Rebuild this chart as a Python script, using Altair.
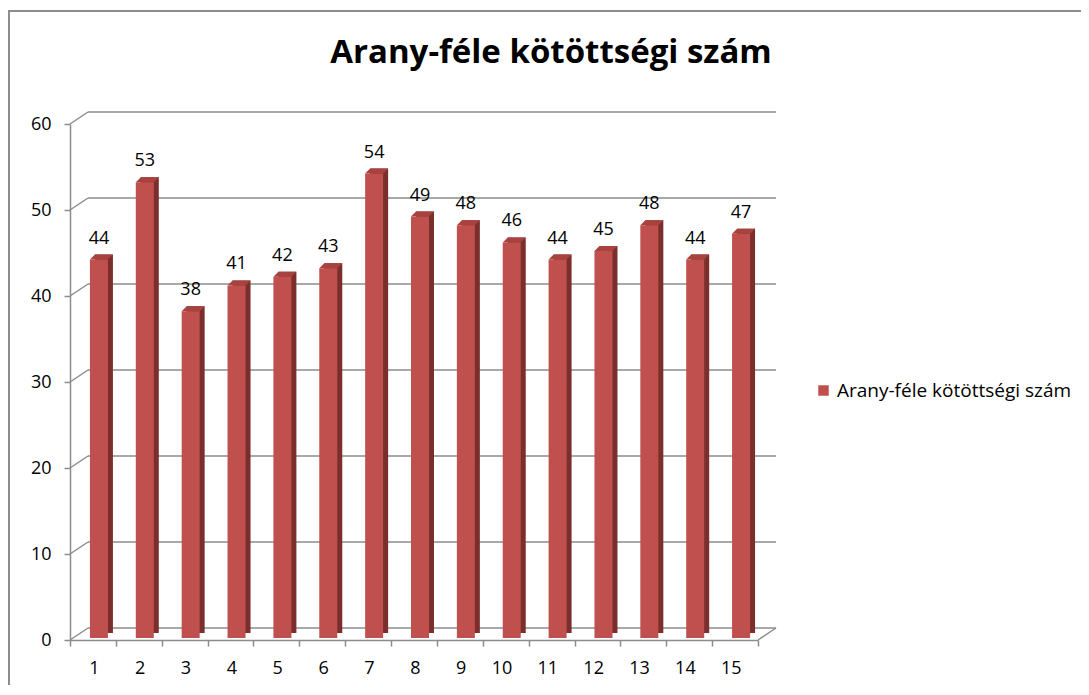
import altair as alt
import pandas as pd

# ---- data ----
categories = [str(i) for i in range(1, 16)]
values = [44, 53, 38, 41, 42, 43, 54, 49, 48, 46, 44, 45, 48, 44, 47]
series_name = "Arany-féle kötöttségi szám"
chart_title = "Arany-féle kötöttségi szám"
y_ticks = [0, 10, 20, 30, 40, 50, 60]
floor_level = [0]

df = pd.DataFrame({"cat": categories, "value": values, "series": [series_name] * len(values)})
grid_df = pd.DataFrame({"tick": y_ticks})
floor_df = pd.DataFrame({"tick": floor_level})
one_df = pd.DataFrame({"label": [chart_title]})

W, H = 688, 516
DX, DY = 18, 12
FONT = "Open Sans"
FS = 18
FRONT = "#c0504d"
SIDE = "#7b2f2d"
TOP = "#a8423f"
GRID = "#8c8c8c"

x_scale = alt.Scale(domain=categories, paddingInner=0, paddingOuter=0)
y_scale = alt.Scale(domain=[0, 60], nice=False, zero=True)

def yq(field="value"):
    return alt.Y(f"{field}:Q", scale=y_scale, title=None)

def xn():
    return alt.X("cat:N", scale=x_scale, sort=categories, title=None)

# back-wall gridlines
grid = alt.Chart(grid_df).mark_rule(color=GRID, strokeWidth=1.5, yOffset=-DY).encode(
    y=yq("tick"),
    x=alt.value(DX),
    x2=alt.value(W + DX),
)
# left wall diagonals
diag = alt.Chart(grid_df).mark_rule(color=GRID, strokeWidth=1.5, y2Offset=-DY).encode(
    y=yq("tick"),
    y2=alt.Y2("tick:Q"),
    x=alt.value(0),
    x2=alt.value(DX),
)
# right floor diagonal
rdiag = alt.Chart(floor_df).mark_rule(color=GRID, strokeWidth=1.5, y2Offset=-DY).encode(
    y=yq("tick"),
    y2=alt.Y2("tick:Q"),
    x=alt.value(W),
    x2=alt.value(W + DX),
)

base = alt.Chart(df)

side = base.mark_bar(color=SIDE, size=18, xOffset=11, yOffset=-7, y2Offset=-7).encode(
    x=xn(), y=yq(),
)

top = base.mark_point(
    shape="M -0.9 0 L 0.9 0 L 1.4 -0.5 L -0.4 -0.5 Z",
    size=400, filled=True, opacity=1, color=TOP, strokeWidth=0,
    xOffset=6, yOffset=-2,
).encode(x=xn(), y=yq())

front = base.mark_bar(size=18, xOffset=6, yOffset=-2, y2Offset=-2).encode(
    x=alt.X(
        "cat:N", scale=x_scale, sort=categories, title=None,
        axis=alt.Axis(
            labelAngle=0, tickBand="extent", tickSize=6, tickColor=GRID, tickWidth=1.5,
            domainColor=GRID, domainWidth=1.5, labelFont=FONT, labelFontSize=FS,
            labelColor="#000000", labelPadding=22, labelOffset=6, grid=False,
        ),
    ),
    y=alt.Y(
        "value:Q", scale=y_scale, title=None,
        axis=alt.Axis(
            values=y_ticks, grid=False, tickSize=6, tickColor=GRID, tickWidth=1.5,
            domainColor=GRID, domainWidth=1.5, labelFont=FONT, labelFontSize=FS,
            labelColor="#000000", labelPadding=13,
        ),
    ),
    color=alt.Color(
        "series:N",
        scale=alt.Scale(domain=[series_name], range=[FRONT]),
        legend=alt.Legend(
            title=None, orient="none", legendX=744, legendY=257,
            symbolType="square", symbolSize=110, symbolStrokeWidth=0,
            labelFont=FONT, labelFontSize=19, labelColor="#000000", labelLimit=400,
        ),
    ),
)

labels = base.mark_text(
    font=FONT, fontSize=FS, color="#000000", baseline="alphabetic", align="center",
    xOffset=6, yOffset=-18,
).encode(x=xn(), y=yq(), text=alt.Text("value:Q"))

title = alt.Chart(one_df).mark_text(
    font=FONT, fontSize=33, fontWeight="bold", color="#000000",
    baseline="alphabetic", align="center",
).encode(x=alt.value(481), y=alt.value(-61), text="label:N")

frame = alt.Chart(one_df).mark_rect(fill="transparent", stroke=GRID, strokeWidth=2).encode(
    x=alt.value(-61), x2=alt.value(1040), y=alt.value(-113), y2=alt.value(620),
)

chart = alt.layer(grid, diag, rdiag, side, top, front, labels, title, frame).properties(
    width=W,
    height=H,
    autosize=alt.AutoSizeParams(type="none"),
    padding={"left": 62, "top": 116, "right": 323, "bottom": 45},
).configure_view(stroke=None)

chart.save("out.html", embed_options={"renderer": "svg", "actions": False})
